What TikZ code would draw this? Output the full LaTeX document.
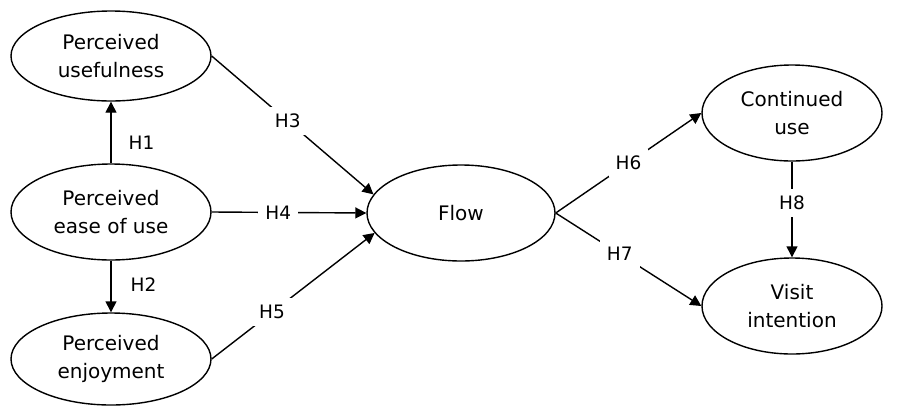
\documentclass[tikz,border=0pt]{standalone}
\usepackage{fontspec}
\setmainfont{DejaVu Sans}
\usetikzlibrary{shapes.geometric,arrows.meta}
\begin{document}
\begin{tikzpicture}[x=1pt,y=-1pt,
  var/.style={ellipse,draw,line width=1.4pt,inner sep=0pt,align=center,font=\fontsize{20}{28}\selectfont},
  lab/.style={fill=white,font=\fontsize{18.5}{20}\selectfont,inner sep=7pt},
  sidelab/.style={font=\fontsize{18.5}{20}\selectfont,inner sep=0pt},
  arr/.style={line width=1.4pt,-{Triangle[length=11pt,width=11pt]}}]
\useasboundingbox (0,0) rectangle (912,410);
\node[var,minimum width=200pt,minimum height=90pt] (pu) at (111,56) {Perceived\\usefulness};
\node[var,minimum width=200pt,minimum height=96pt] (pe) at (111,212) {Perceived\\ease of use};
\node[var,minimum width=200pt,minimum height=92pt] (pj) at (111,359) {Perceived\\enjoyment};
\node[var,minimum width=188pt,minimum height=96pt] (flow) at (461,213) {Flow};
\node[var,minimum width=180pt,minimum height=96pt] (cu) at (792,113) {Continued\\use};
\node[var,minimum width=180pt,minimum height=96pt] (vi) at (792,306) {Visit\\intention};
\draw[arr] (pe.north) -- node[sidelab,pos=0.34,anchor=west,xshift=17pt]{H1} (pu.south);
\draw[arr] (pe.south) -- node[sidelab,pos=0.47,anchor=west,xshift=19pt]{H2} (pj.north);
\draw[arr] (pu.east) -- node[lab,pos=0.47]{H3} (flow.168);
\draw[arr] (pe.east) -- node[lab,pos=0.43]{H4} (flow.west);
\draw[arr] (pj.east) -- node[lab,pos=0.37]{H5} (flow.193);
\draw[arr] (flow.east) -- node[lab,pos=0.5]{H6} (cu.west);
\draw[arr] (flow.east) -- node[lab,pos=0.44]{H7} (vi.west);
\draw[arr] (cu.south) -- node[lab,pos=0.43]{H8} (vi.north);
\end{tikzpicture}
\end{document}
